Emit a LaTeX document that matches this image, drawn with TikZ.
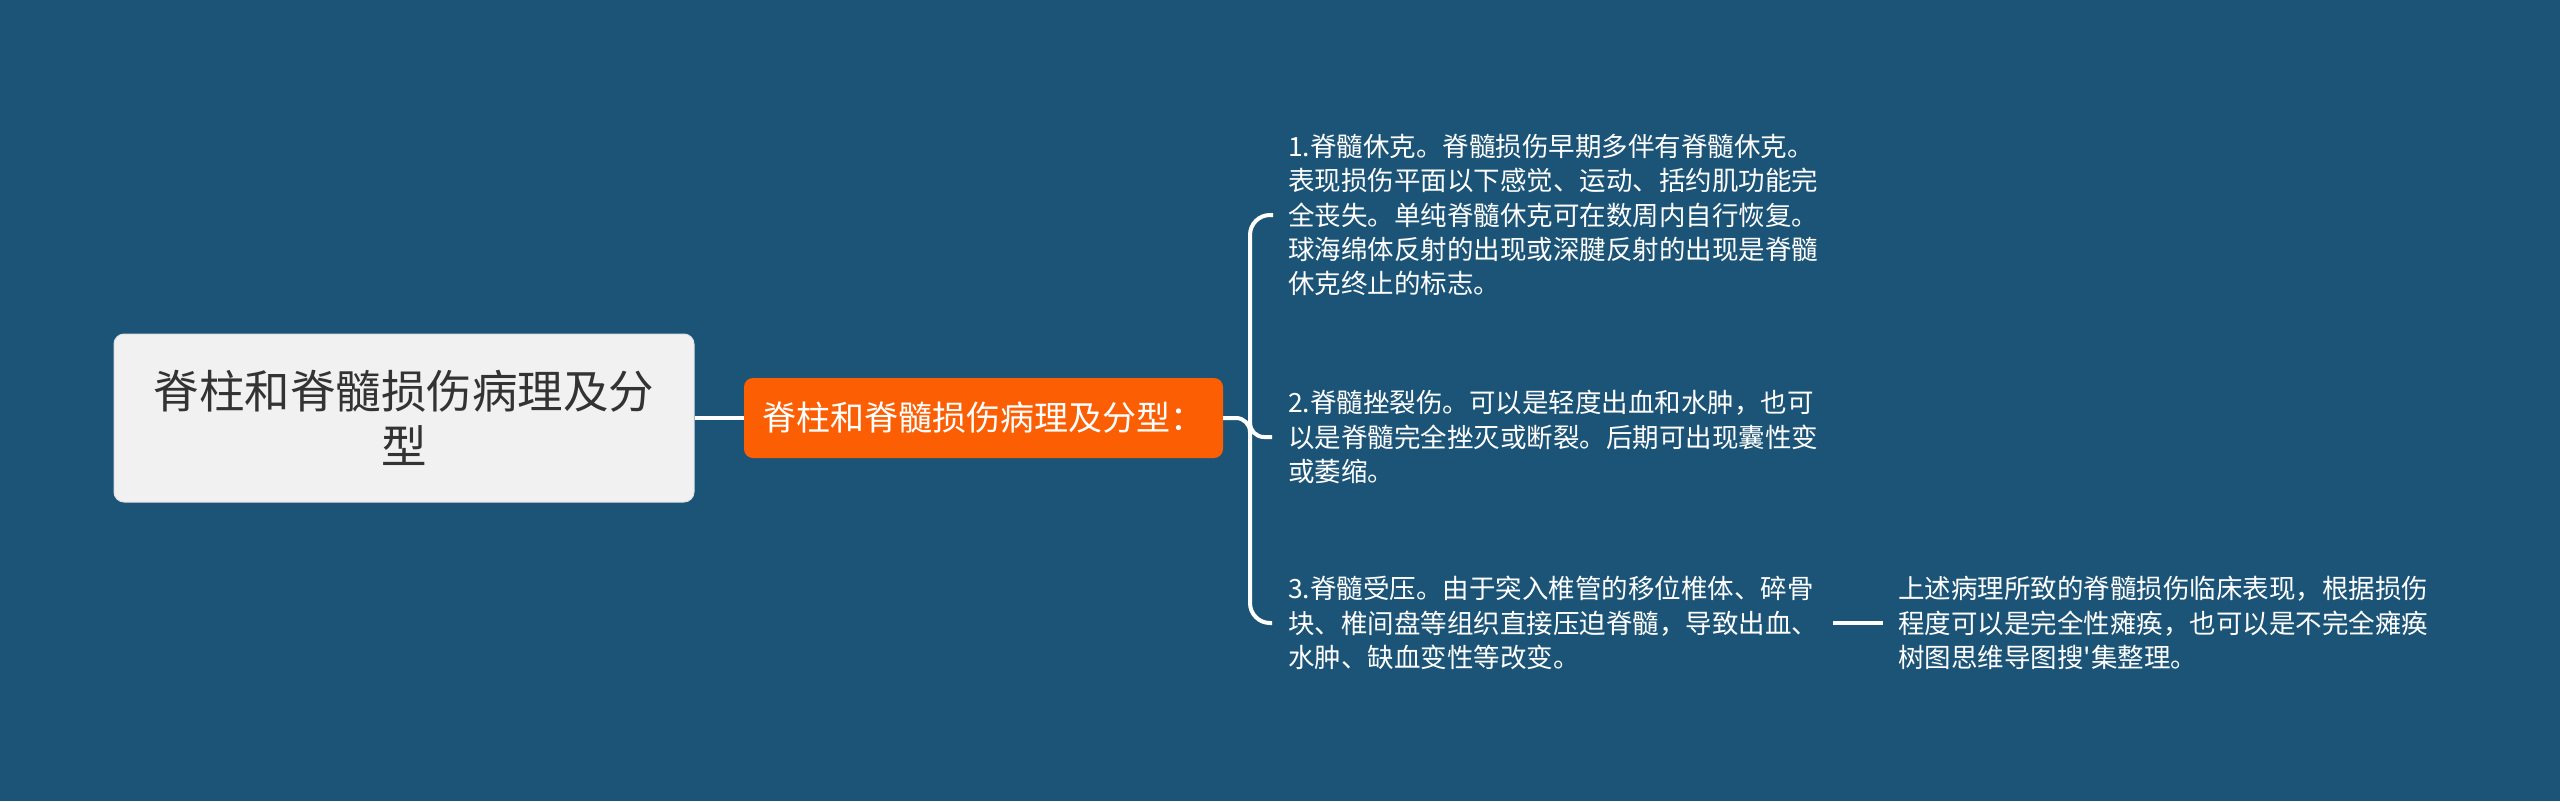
\documentclass[tikz,border=0pt]{standalone}
\usepackage{fontspec}
\newfontfamily\cjk{Noto Sans CJK SC}
\definecolor{bgc}{RGB}{27,84,119}
\definecolor{rootfill}{RGB}{241,241,241}
\definecolor{rootedge}{RGB}{220,224,228}
\definecolor{roottext}{RGB}{51,51,51}
\definecolor{midfill}{RGB}{252,94,4}
\begin{document}
\begin{tikzpicture}[x=1pt,y=-1pt,
  rootbox/.style={draw=rootedge, line width=1pt, fill=rootfill, rounded corners=10pt,
    minimum width=580pt, minimum height=168pt, align=center, text=roottext,
    inner sep=0pt, font=\cjk\fontsize{45.5}{55}\selectfont},
  midbox/.style={fill=midfill, rounded corners=9pt, minimum width=479pt, minimum height=80pt,
    text=white, inner sep=0pt, font=\cjk\fontsize{34}{40}\selectfont},
  leaf/.style={text=white, align=left, inner sep=0pt, anchor=west,
    font=\cjk\fontsize{26.5}{34.2}\selectfont},
  conn/.style={draw=white, line width=4pt}]
\fill[bgc] (0,0) rectangle (2560,801);
\useasboundingbox (0,0) rectangle (2560,801);

\node[rootbox] (root) at (404,418) {脊柱和脊髓损伤病理及分\\型};
\node[midbox] (mid) at (983.5,418) {脊柱和脊髓损伤病理及分型：};

\node[leaf] (i1) at (1288,215) {1.脊髓休克。脊髓损伤早期多伴有脊髓休克。\\表现损伤平面以下感觉、运动、括约肌功能完\\全丧失。单纯脊髓休克可在数周内自行恢复。\\球海绵体反射的出现或深腱反射的出现是脊髓\\休克终止的标志。};
\node[leaf] (i2) at (1288,437) {2.脊髓挫裂伤。可以是轻度出血和水肿，也可\\以是脊髓完全挫灭或断裂。后期可出现囊性变\\或萎缩。};
\node[leaf] (i3) at (1288,623) {3.脊髓受压。由于突入椎管的移位椎体、碎骨\\块、椎间盘等组织直接压迫脊髓，导致出血、\\水肿、缺血变性等改变。};
\node[leaf] (i4) at (1898,623) {上述病理所致的脊髓损伤临床表现，根据损伤\\程度可以是完全性瘫痪，也可以是不完全瘫痪\\树图思维导图搜'集整理。};

\coordinate (bx) at (1250,418);
\draw[conn] (root.east) -- (mid.west);
\draw[conn, rounded corners=20pt] ([xshift=-15pt]i1.west) -- ([xshift=-38pt]i1.west) |- ([xshift=-16pt]i3.west);
\draw[conn, rounded corners=14pt] (mid.east) -- (bx) |- ([xshift=-16pt]i2.west);
\draw[conn] ([xshift=15pt]i3.east) -- ([xshift=-15pt]i4.west);
\end{tikzpicture}
\end{document}
